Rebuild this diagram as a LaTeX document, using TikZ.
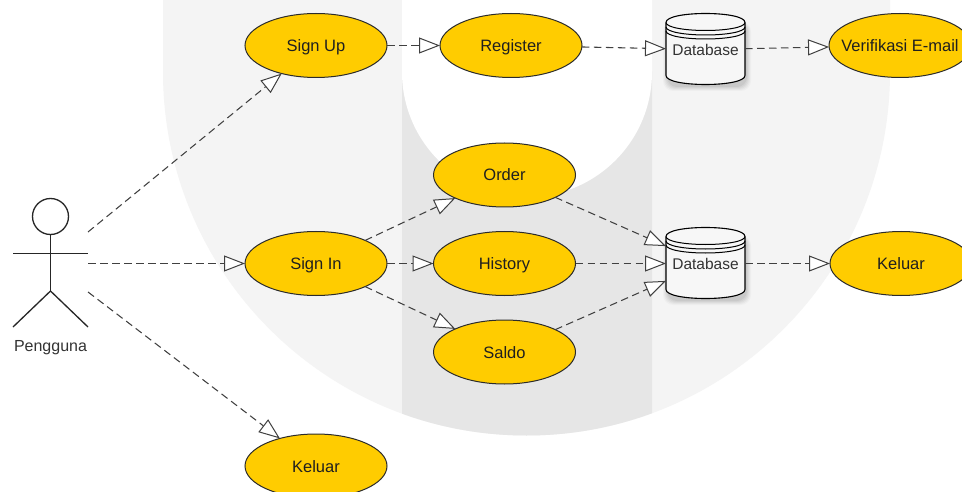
\documentclass[tikz,border=0pt]{standalone}
\usepackage{fontspec}
\setmainfont{Liberation Sans}
\usetikzlibrary{arrows.meta,shapes.geometric}
\definecolor{wmlight}{HTML}{F4F4F4}
\definecolor{wmdark}{HTML}{E6E6E6}
\definecolor{ucfill}{HTML}{FFCC00}
\definecolor{inkc}{HTML}{2B2B2B}
\newcommand{\uctext}[1]{\makebox[0pt]{\raisebox{-6pt}[0pt][0pt]{#1}}}
\tikzset{
  usecase/.style={ellipse,draw=inkc,line width=1pt,fill=ucfill,minimum width=142pt,minimum height=64pt,inner sep=0pt,outer sep=0pt,text=black!88,font=\fontsize{16.5}{19}\selectfont},
  dbnode/.style={rectangle,minimum width=79pt,minimum height=70pt,inner sep=0pt,outer sep=0pt},
  dblabel/.style={text=black!80,font=\fontsize{15.5}{18}\selectfont,inner sep=0pt},
  dep/.style={draw=inkc!90,line width=1.05pt,dash pattern=on 7.5pt off 4.5pt,-{Triangle[length=21pt,width=16pt,fill=white,line width=1pt]}},
  actorline/.style={draw=black!85,line width=1.3pt},
  cyl/.style={draw=black,line width=1.1pt,fill=white}
}
\newcommand{\dbcylinder}[2]{%
  \foreach \o/\a in {5/.025,4/.03,3/.035,2/.04,1/.05}{
    \fill[black,opacity=\a,rounded corners=10pt] (#1-39.5-\o+2,#2-28) rectangle (#1+39.5+\o+1,#2+35.5+\o+1);
  }
  \path[cyl,fill=white!97!black] (#1-39.5,#2-27) -- (#1-39.5,#2+26)
    .. controls (#1-39.5,#2+32) and (#1-20,#2+35) .. (#1,#2+35)
    .. controls (#1+20,#2+35) and (#1+39.5,#2+32) .. (#1+39.5,#2+26)
    -- (#1+39.5,#2-27)
    .. controls (#1+39.5,#2-33) and (#1+20,#2-36) .. (#1,#2-36)
    .. controls (#1-20,#2-36) and (#1-39.5,#2-33) .. (#1-39.5,#2-27) -- cycle;
  \foreach \d in {0,4.5,8.5}{
    \draw[line width=1pt,black] (#1-39.5,#2-27+\d)
      .. controls (#1-39.5,#2-22+\d) and (#1-20,#2-19+\d) .. (#1,#2-19+\d)
      .. controls (#1+20,#2-19+\d) and (#1+39.5,#2-22+\d) .. (#1+39.5,#2-27+\d);
  }
}
\begin{document}
\begin{tikzpicture}[x=1pt,y=-1pt]
\useasboundingbox (0,0) rectangle (962,492);
\clip (0,0) rectangle (962,492);
\fill[white] (0,0) rectangle (962,492);
% watermark
\fill[wmlight] (163,-2) -- (163,72) arc[start angle=180,end angle=0,radius=363.5] -- (890,-2) -- cycle;
\begin{scope}
  \clip (402,72) rectangle (652,440);
  \fill[wmdark] (526.5,72) circle[radius=363.5];
\end{scope}
\fill[white] (402,-2) -- (402,72) arc[start angle=180,end angle=0,radius=125] -- (652,-2) -- cycle;
% actor
\node[circle,draw=black!85,line width=1.3pt,minimum size=36pt,inner sep=0pt,outer sep=0pt] (head) at (50.5,216.5) {};
\coordinate (hip) at (50.5,291);
\coordinate (armL) at (13,253.5);
\coordinate (armR) at (88,253.5);
\coordinate (legL) at (13,327);
\coordinate (legR) at (88,327);
\draw[actorline] (head.south) -- (hip);
\draw[actorline] (armL) -- (armR);
\draw[actorline] (legL) -- (hip) -- (legR);
\node[text=black!80,font=\fontsize{16}{19}\selectfont,inner sep=0pt] (pengguna) at (50.5,348) {Pengguna};
\coordinate (actorA) at (88,232);
\coordinate (actorB) at (88,263.5);
\coordinate (actorC) at (88,292);
% databases
\dbcylinder{705.5}{49.5}
\dbcylinder{705.5}{263.5}
\node[dbnode] (db1) at (705.5,49.5) {};
\node[dbnode] (db2) at (705.5,263.5) {};
\node[dblabel] (db1t) at (705.5,50) {Database};
\node[dblabel] (db2t) at (705.5,264) {Database};
% use cases
\node[usecase] (signup) at (316,45.5) {\uctext{Sign Up}};
\node[usecase] (register) at (511,45.5) {\uctext{Register}};
\node[usecase] (verif) at (900,45.5) {\uctext{Verifikasi E-mail}};
\node[usecase] (signin) at (316,263.5) {\uctext{Sign In}};
\node[usecase] (order) at (504.5,175) {\uctext{Order}};
\node[usecase] (history) at (504.5,263.5) {\uctext{History}};
\node[usecase] (saldo) at (504.5,352) {\uctext{Saldo}};
\node[usecase] (keluarR) at (901,263.5) {\uctext{Keluar}};
\node[usecase] (keluarB) at (316,466) {\uctext{Keluar}};
% connectors
\draw[dep] (actorA) -- (signup);
\draw[dep] (actorB) -- (signin);
\draw[dep] (actorC) -- (keluarB);
\draw[dep] (signup) -- (register);
\draw[dep] (register) -- (db1);
\draw[dep] (db1) -- (verif);
\draw[dep] (signin) -- (order);
\draw[dep] (signin) -- (history);
\draw[dep] (signin) -- (saldo);
\draw[dep] (order) -- (db2);
\draw[dep] (history) -- (db2);
\draw[dep] (saldo) -- (db2);
\draw[dep] (db2) -- (keluarR);
\end{tikzpicture}
\end{document}
